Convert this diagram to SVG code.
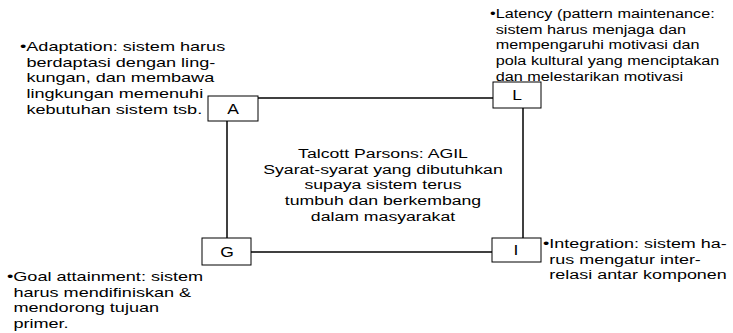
<svg xmlns="http://www.w3.org/2000/svg" width="733" height="333" viewBox="0 0 733 333">
<style>
text{font-family:"Liberation Sans",Arial,sans-serif;font-size:13.3px;fill:#000}
.box{fill:#fff;stroke:#000;stroke-width:1}
.line{stroke:#000;stroke-width:1.5;fill:none}
.c{text-anchor:middle}
.lt{font-size:14px}
</style>
<rect width="733" height="333" fill="#fff"/>
<g id="connectors">
<line class="line" x1="258" y1="98" x2="493" y2="98"/>
<line class="line" x1="523" y1="108" x2="523" y2="238"/>
<line class="line" x1="227" y1="121" x2="227" y2="238"/>
<line class="line" x1="251" y1="252" x2="492" y2="252"/>
</g>
<g id="node-A">
<rect class="box" x="208" y="96" width="50" height="25"/>
<text class="c lt" transform="matrix(1.25,0,0,1,-58.25,0)" x="233" y="114">A</text>
</g>
<g id="node-L">
<rect class="box" x="493" y="82" width="48" height="26"/>
<text class="c lt" transform="matrix(1.25,0,0,1,-129.25,0)" x="517" y="100">L</text>
</g>
<g id="node-G">
<rect class="box" x="202" y="238" width="49" height="27"/>
<text class="c lt" transform="matrix(1.25,0,0,1,-56.75,0)" x="227" y="257">G</text>
</g>
<g id="node-I">
<rect class="box" x="492" y="238" width="49" height="24"/>
<text class="c lt" transform="matrix(1.25,0,0,1,-129,0)" x="516" y="255">I</text>
</g>
<g id="label-adaptation" transform="matrix(1.36,0,0,1,-7.2,0)">
<text x="20" y="51">•Adaptation: sistem harus</text>
<text x="24.7" y="66.7">berdaptasi dengan ling-</text>
<text x="24.7" y="82.4">kungan, dan membawa</text>
<text x="24.7" y="98.1">lingkungan memenuhi</text>
<text x="24.7" y="113.8">kebutuhan sistem tsb.</text>
</g>
<g id="label-latency" transform="matrix(1.22,0,0,1,-107.8,0)">
<text x="490" y="18">•Latency (pattern maintenance:</text>
<text x="494.7" y="33.7">sistem harus menjaga dan</text>
<text x="494.7" y="49.4">mempengaruhi motivasi dan</text>
<text x="494.7" y="65.1">pola kultural yang menciptakan</text>
<text x="494.7" y="80.8">dan melestarikan motivasi</text>
</g>
<g id="label-integration" transform="matrix(1.35,0,0,1,-190.05,0)">
<text x="543" y="248">•Integration: sistem ha-</text>
<text x="547.7" y="263.7">rus mengatur inter-</text>
<text x="547.7" y="279.4">relasi antar komponen</text>
</g>
<g id="label-goal" transform="matrix(1.36,0,0,1,-2.52,0)">
<text x="7" y="281">•Goal attainment: sistem</text>
<text x="11.7" y="296.7">harus mendifiniskan &amp;</text>
<text x="11.7" y="312.4">mendorong tujuan</text>
<text x="11.7" y="328.1">primer.</text>
</g>
<g id="label-center" transform="matrix(1.33,0,0,1,-126.39,0)">
<text class="c" x="383" y="158">Talcott Parsons: AGIL</text>
<text class="c" x="383" y="173.7">Syarat-syarat yang dibutuhkan</text>
<text class="c" x="383" y="189.4">supaya sistem terus</text>
<text class="c" x="383" y="205.1">tumbuh dan berkembang</text>
<text class="c" x="383" y="220.8">dalam masyarakat</text>
</g>
</svg>
